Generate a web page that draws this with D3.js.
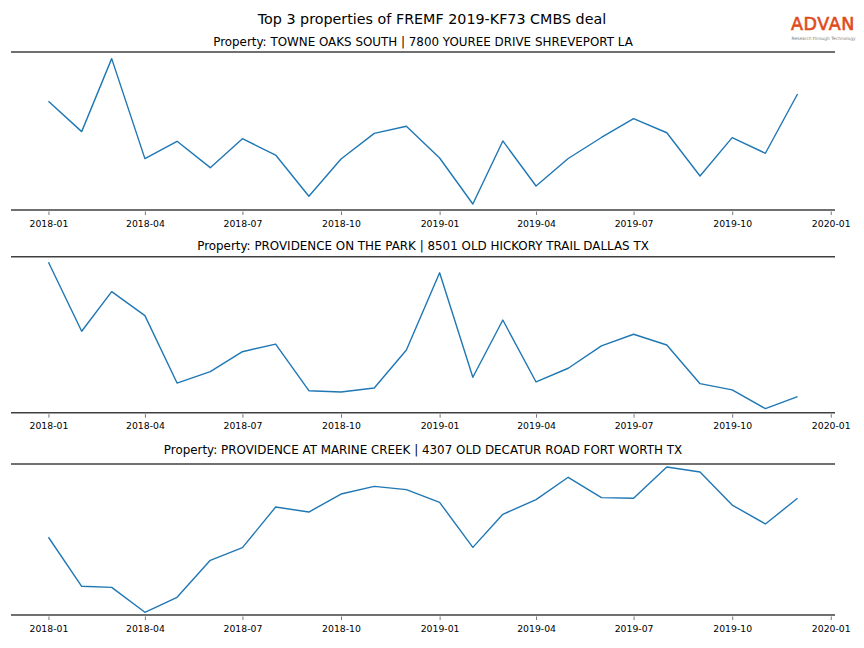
<!DOCTYPE html>
<html>
<head>
<meta charset="utf-8">
<script src="https://cdn.jsdelivr.net/npm/d3@7"></script>
<style>
  html, body { margin: 0; padding: 0; background: #fff; }
  svg { display: block; font-family: "DejaVu Sans", sans-serif; }
</style>
</head>
<body>
<svg id="chart" width="864" height="648"></svg>
<script>
// ---- Data (relative activity index, 0-100 of each panel's value range; no y axis in source) ----
const months = ["2018-01","2018-02","2018-03","2018-04","2018-05","2018-06","2018-07","2018-08","2018-09","2018-10","2018-11","2018-12",
                "2019-01","2019-02","2019-03","2019-04","2019-05","2019-06","2019-07","2019-08","2019-09","2019-10","2019-11","2019-12"];

const mainTitle = "Top 3 properties of FREMF 2019-KF73 CMBS deal";

const propertyTitles = [
  "Property: TOWNE OAKS SOUTH | 7800 YOUREE DRIVE SHREVEPORT LA",
  "Property: PROVIDENCE ON THE PARK | 8501 OLD HICKORY TRAIL DALLAS TX",
  "Property: PROVIDENCE AT MARINE CREEK | 4307 OLD DECATUR ROAD FORT WORTH TX"
];

const towneOaks = [68.8, 49.6, 95.8, 32.5, 43.5, 26.8, 45.1, 34.8, 8.7, 32.3, 48.5, 53.0,
                   32.9, 3.8, 43.7, 15.2, 32.6, 45.9, 57.8, 48.9, 21.5, 45.8, 35.9, 73.4];
const providencePark = [96.4, 52.2, 77.6, 62.2, 19.0, 26.3, 39.1, 44.0, 14.1, 13.3, 15.8, 40.2,
                        89.7, 22.7, 59.4, 19.7, 28.5, 42.8, 50.3, 43.4, 18.6, 14.6, 2.6, 10.3];
const marineCreek = [51.5, 19.0, 18.3, 1.8, 11.7, 36.2, 44.6, 71.5, 68.2, 80.1, 85.2, 83.0,
                     74.6, 44.8, 66.7, 76.4, 91.2, 77.7, 77.3, 98.0, 94.7, 72.8, 60.3, 77.3];

const tickLabels = ["2018-01","2018-04","2018-07","2018-10","2019-01","2019-04","2019-07","2019-10","2020-01"];

const seriesList = [towneOaks, providencePark, marineCreek];

// ---- Layout ----
const svg = d3.select("#chart");
const W = 864;
const axLeft = 11, axRight = 835;
const panels = [
  { top: 52,    bottom: 210,   titleY: 46.4 },
  { top: 256.7, bottom: 412.7, titleY: 250.4 },
  { top: 464,   bottom: 615,   titleY: 454.4 }
];

const parse = d3.utcParse("%Y-%m");
const dates = months.map(parse);
const t0 = dates[0].getTime(), t1 = dates[dates.length - 1].getTime();
const pad = (t1 - t0) * 0.05;
const x = d3.scaleUtc()
  .domain([new Date(t0 - pad), new Date(t1 + pad)])
  .range([axLeft, axRight]);

// Main title
svg.append("text")
  .attr("x", W / 2).attr("y", 24.2)
  .attr("text-anchor", "middle")
  .attr("font-size", 14.3)
  .attr("fill", "#000")
  .text(mainTitle);

// Logo
svg.append("text")
  .attr("x", 791).attr("y", 29.5)
  .attr("font-size", 17.5)
  .attr("fill", "#e04a1c")
  .attr("stroke", "#e04a1c")
  .attr("stroke-width", 0.6)
  .attr("letter-spacing", 0.6)
  .text("ADVAN");
svg.append("text")
  .attr("x", 791.5).attr("y", 39.6)
  .attr("font-size", 4.4)
  .attr("fill", "#808080")
  .attr("textLength", 64)
  .attr("lengthAdjust", "spacingAndGlyphs")
  .text("Research through Technology");

const line = d3.line();

panels.forEach((p, i) => {
  const y = d3.scaleLinear().domain([0, 100]).range([p.bottom, p.top]);
  const g = svg.append("g");

  // Subplot title
  g.append("text")
    .attr("x", (axLeft + axRight) / 2).attr("y", p.titleY)
    .attr("text-anchor", "middle")
    .attr("font-size", 11.9)
    .attr("fill", "#000")
    .text(propertyTitles[i]);

  // Spines (top and bottom)
  g.append("line")
    .attr("x1", axLeft).attr("x2", axRight)
    .attr("y1", p.top).attr("y2", p.top)
    .attr("stroke", "#404040").attr("stroke-width", 1.6);
  g.append("line")
    .attr("x1", axLeft).attr("x2", axRight)
    .attr("y1", p.bottom).attr("y2", p.bottom)
    .attr("stroke", "#404040").attr("stroke-width", 1.6);

  // X axis
  const axis = d3.axisBottom(x)
    .tickValues(tickLabels.map(parse))
    .tickFormat(d3.utcFormat("%Y-%m"))
    .tickSize(3.5)
    .tickPadding(5);
  const ag = g.append("g")
    .attr("transform", `translate(0,${p.bottom + 1.5})`)
    .call(axis);
  ag.select(".domain").remove();
  ag.selectAll(".tick line").attr("stroke", "#555").attr("stroke-width", 0.8);
  ag.selectAll(".tick text")
    .attr("fill", "#000")
    .attr("font-size", 9.3)
    .attr("font-family", "DejaVu Sans, sans-serif");

  // Series line
  const pts = seriesList[i].map((v, k) => [x(dates[k]), y(v)]);
  g.append("path")
    .attr("d", line(pts))
    .attr("fill", "none")
    .attr("stroke", "#1f77b4")
    .attr("stroke-width", 1.4)
    .attr("stroke-linejoin", "round");
});
</script>
</body>
</html>
